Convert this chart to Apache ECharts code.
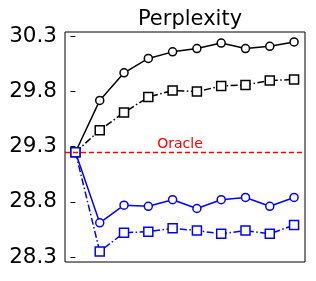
<!DOCTYPE html>
<html><head><meta charset="utf-8">
<script src="https://cdn.jsdelivr.net/npm/echarts@6/dist/echarts.min.js"></script>
<style>html,body{margin:0;padding:0;background:#fff}#c{width:316px;height:281px}</style>
</head><body><div id="c"></div>
<script>
const steps = [0,1,2,3,4,5,6,7,8,9];
const blackCircle = [29.25,29.72,29.97,30.10,30.16,30.19,30.24,30.19,30.21,30.25];
const blackSquare = [29.25,29.45,29.61,29.75,29.81,29.80,29.85,29.86,29.90,29.91];
const blueCircle  = [29.25,28.61,28.77,28.76,28.82,28.74,28.82,28.84,28.76,28.84];
const blueSquare  = [29.25,28.35,28.52,28.53,28.56,28.54,28.51,28.54,28.51,28.59];
const oracle = 29.25;
const yTicks = [28.3,28.8,29.3,29.8,30.3];
const yTickLabels = ['28.3','28.8','29.3','29.8','30.3'];

const pts = arr => steps.map((s,i)=>[s,arr[i]]);
const font = 'DejaVu Sans';
const dashDot = [7,2.5,1.5,2.5];
function mk(name, data, color, symbol, dashed){
  return {name, type:'line', data:pts(data), symbol, symbolSize: symbol==='rect'?9:8,
    showSymbol:true,
    itemStyle:{color:'#fff', borderColor:color, borderWidth:1.5},
    lineStyle:{color, width:1.5, type: dashed?dashDot:'solid'},
    emphasis:{disabled:true}, z:3, animation:false};
}
const chart = echarts.init(document.getElementById('c'));
const s1 = mk('bc', blackCircle, '#000', 'circle', false);
s1.markLine = {silent:true, symbol:'none', animation:false,
  lineStyle:{color:'#ff0000', type:[5,3], width:1.3},
  label:{show:true, position:'middle', formatter:'Oracle', color:'#ff0000', fontSize:14, fontFamily:font, distance:1, offset:[-5,0]},
  data:[{yAxis:oracle}]};
chart.setOption({
  animation:false,
  title:{text:'Perplexity', left:185, top:4, textAlign:'center',
    textStyle:{fontFamily:font, fontSize:21, fontWeight:'normal', color:'#000'}},
  grid:{left:65, right:11, top:32, bottom:19, show:true, borderColor:'#000', borderWidth:1, backgroundColor:'transparent'},
  xAxis:{type:'value', min:-0.43, max:9.45, axisLine:{show:false}, axisTick:{show:false}, axisLabel:{show:false}, splitLine:{show:false}},
  yAxis:{type:'value', min:28.255, max:30.34,
    axisLine:{show:false},
    axisTick:{show:true, length:5, lineStyle:{color:'#000', width:1}, customValues:yTicks},
    axisLabel:{show:true, customValues:yTicks, formatter:v=>{const i=yTicks.findIndex(t=>Math.abs(t-v)<1e-6);return i>=0?yTickLabels[i]:'';}, color:'#000', fontSize:21.5, fontFamily:font, margin:8},
    splitLine:{show:false}},
  series:[
    s1,
    mk('bs', blackSquare, '#000', 'rect', true),
    mk('uc', blueCircle, '#0000ff', 'circle', false),
    mk('us', blueSquare, '#0000ff', 'rect', true)
  ]
});
</script></body></html>
